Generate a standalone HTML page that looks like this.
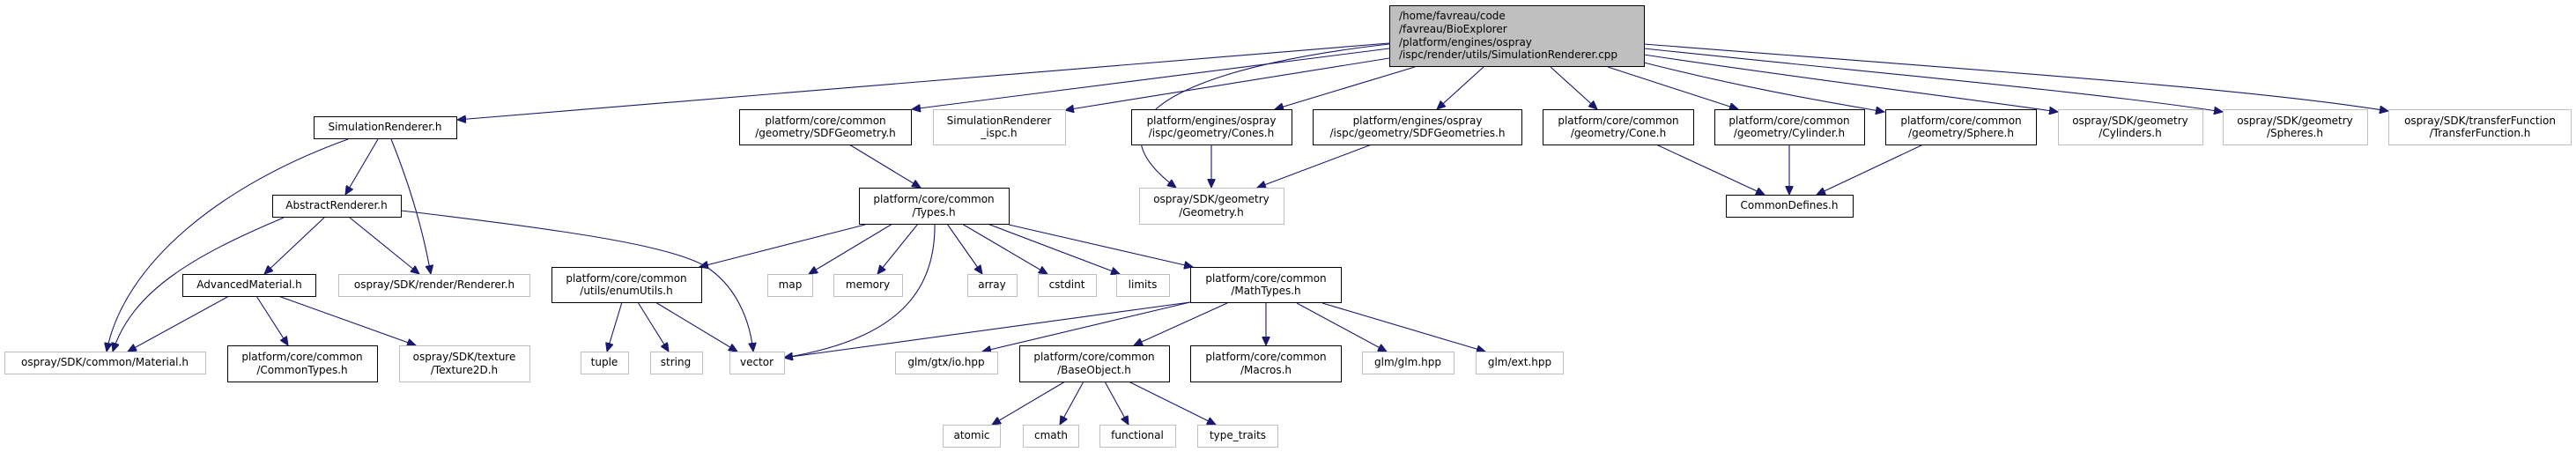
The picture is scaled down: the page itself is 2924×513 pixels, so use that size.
<!DOCTYPE html>
<html><head><meta charset="utf-8"><style>
html,body{margin:0;padding:0;background:#fff;}
svg{display:block;}
text{font-family:"DejaVu Sans","Liberation Sans",sans-serif;font-size:12px;fill:#000;}
.b{fill:#fff;stroke:#000;stroke-width:1;}
.g{fill:#fff;stroke:#bfbfbf;stroke-width:1;}
.e{fill:none;stroke:#191970;stroke-width:1.1;}
</style></head><body>
<svg width="2924" height="513" viewBox="0 0 2924 513" xmlns="http://www.w3.org/2000/svg">
<defs><marker id="a" markerUnits="userSpaceOnUse" markerWidth="11" markerHeight="9" refX="10" refY="4.5" orient="auto"><path d="M0,0 L10,4.5 L0,9 Z" fill="#191970" stroke="#191970"/></marker></defs>
<g class="e" marker-end="url(#a)">
<path d="M1577,49 L519,136"/>
<path d="M1577,55 L1035,124"/>
<path d="M1577,66 L1209,125"/>
<path d="M1577,50 C1400,70 1210,120 1335,213"/>
<path d="M1606,76 L1447,124"/>
<path d="M1684,76 L1631,124"/>
<path d="M1760,76 L1813,124"/>
<path d="M1825,76 L1973,124"/>
<path d="M1866,71 C1980,100 2070,115 2139,127"/>
<path d="M1866,62 C2050,90 2220,110 2336,127"/>
<path d="M1866,55 C2150,85 2380,105 2523,127"/>
<path d="M1866,50 C2250,80 2550,100 2711,126"/>
<path d="M395,158 C250,210 140,300 121,399"/>
<path d="M429,158 L392,221"/>
<path d="M444,158 C465,210 480,260 489,311"/>
<path d="M322,247 C220,290 150,330 128,399"/>
<path d="M368,247 L300,311"/>
<path d="M397,247 L476,311"/>
<path d="M455,239 C650,262 770,280 805,305 C840,330 852,370 855,399"/>
<path d="M260,336 L145,399"/>
<path d="M291,336 L327,392"/>
<path d="M316,336 L472,392"/>
<path d="M964,164 L1045,213"/>
<path d="M982,255 L794,303"/>
<path d="M1013,254 L918,311"/>
<path d="M1042,254 L996,311"/>
<path d="M1061,254 C1062,330 1020,385 890,406"/>
<path d="M1075,254 L1115,311"/>
<path d="M1092,254 L1189,311"/>
<path d="M1121,254 L1271,311"/>
<path d="M1145,255 L1354,303"/>
<path d="M706,343 L689,399"/>
<path d="M724,343 L759,399"/>
<path d="M744,343 L837,399"/>
<path d="M1351,343 L890,406"/>
<path d="M1351,343 L1115,399"/>
<path d="M1393,344 L1287,392"/>
<path d="M1437,344 L1437,392"/>
<path d="M1472,344 L1574,399"/>
<path d="M1501,344 L1686,399"/>
<path d="M1209,433 L1126,482"/>
<path d="M1230,433 L1203,482"/>
<path d="M1254,433 L1281,482"/>
<path d="M1281,433 L1380,482"/>
<path d="M1375,164 L1375,213"/>
<path d="M1557,164 L1427,213"/>
<path d="M1880,164 L2003,221"/>
<path d="M2031,164 L2031,221"/>
<path d="M2183,164 L2062,221"/>
</g>
<!-- main -->
<rect x="1577.5" y="6.5" width="289" height="69" fill="#bfbfbf" stroke="#000"/>
<text x="1588" y="22">/home/favreau/code</text>
<text x="1588" y="37">/favreau/BioExplorer</text>
<text x="1588" y="52">/platform/engines/ospray</text>
<text x="1588" y="66">/ispc/render/utils/SimulationRenderer.cpp</text>
<g text-anchor="middle">
<!-- row 1 -->
<rect class="b" x="356.5" y="132.5" width="162" height="25"/><text x="437" y="148">SimulationRenderer.h</text>
<rect class="b" x="839.5" y="124.5" width="195" height="40"/><text x="937" y="141">platform/core/common</text><text x="937" y="155">/geometry/SDFGeometry.h</text>
<rect class="g" x="1059.5" y="124.5" width="150" height="40"/><text x="1134" y="141">SimulationRenderer</text><text x="1134" y="155">_ispc.h</text>
<rect class="b" x="1284.5" y="124.5" width="182" height="40"/><text x="1375" y="141">platform/engines/ospray</text><text x="1375" y="155">/ispc/geometry/Cones.h</text>
<rect class="b" x="1490.5" y="124.5" width="237" height="40"/><text x="1609" y="141">platform/engines/ospray</text><text x="1609" y="155">/ispc/geometry/SDFGeometries.h</text>
<rect class="b" x="1751.5" y="124.5" width="171" height="40"/><text x="1837" y="141">platform/core/common</text><text x="1837" y="155">/geometry/Cone.h</text>
<rect class="b" x="1946.5" y="124.5" width="170" height="40"/><text x="2031" y="141">platform/core/common</text><text x="2031" y="155">/geometry/Cylinder.h</text>
<rect class="b" x="2140.5" y="124.5" width="171" height="40"/><text x="2226" y="141">platform/core/common</text><text x="2226" y="155">/geometry/Sphere.h</text>
<rect class="g" x="2336.5" y="124.5" width="164" height="40"/><text x="2418" y="141">ospray/SDK/geometry</text><text x="2418" y="155">/Cylinders.h</text>
<rect class="g" x="2523.5" y="124.5" width="164" height="40"/><text x="2605" y="141">ospray/SDK/geometry</text><text x="2605" y="155">/Spheres.h</text>
<rect class="g" x="2711.5" y="124.5" width="207" height="40"/><text x="2815" y="141">ospray/SDK/transferFunction</text><text x="2815" y="155">/TransferFunction.h</text>
<!-- row 2 -->
<rect class="b" x="309.5" y="221.5" width="146" height="25"/><text x="382" y="237">AbstractRenderer.h</text>
<rect class="b" x="975.5" y="213.5" width="170" height="41"/><text x="1060" y="230">platform/core/common</text><text x="1060" y="245">/Types.h</text>
<rect class="g" x="1293.5" y="213.5" width="164" height="41"/><text x="1375" y="230">ospray/SDK/geometry</text><text x="1375" y="245">/Geometry.h</text>
<rect class="b" x="1959.5" y="221.5" width="144" height="25"/><text x="2031" y="237">CommonDefines.h</text>
<!-- row 3 -->
<rect class="b" x="207.5" y="311.5" width="151" height="25"/><text x="283" y="327">AdvancedMaterial.h</text>
<rect class="g" x="384.5" y="311.5" width="217" height="25"/><text x="493" y="327">ospray/SDK/render/Renderer.h</text>
<rect class="b" x="626.5" y="303.5" width="170" height="40"/><text x="711" y="320">platform/core/common</text><text x="711" y="334">/utils/enumUtils.h</text>
<rect class="g" x="871.5" y="311.5" width="51" height="25"/><text x="897" y="327">map</text>
<rect class="g" x="946.5" y="311.5" width="78" height="25"/><text x="985" y="327">memory</text>
<rect class="g" x="1098.5" y="311.5" width="56" height="25"/><text x="1126" y="327">array</text>
<rect class="g" x="1178.5" y="311.5" width="66" height="25"/><text x="1211" y="327">cstdint</text>
<rect class="g" x="1267.5" y="311.5" width="60" height="25"/><text x="1297" y="327">limits</text>
<rect class="b" x="1351.5" y="303.5" width="171" height="40"/><text x="1437" y="320">platform/core/common</text><text x="1437" y="334">/MathTypes.h</text>
<!-- row 4 -->
<rect class="g" x="5.5" y="399.5" width="228" height="25"/><text x="119" y="415">ospray/SDK/common/Material.h</text>
<rect class="b" x="258.5" y="392.5" width="170" height="41"/><text x="343" y="409">platform/core/common</text><text x="343" y="424">/CommonTypes.h</text>
<rect class="g" x="453.5" y="392.5" width="148" height="41"/><text x="527" y="409">ospray/SDK/texture</text><text x="527" y="424">/Texture2D.h</text>
<rect class="g" x="659.5" y="399.5" width="54" height="25"/><text x="686" y="415">tuple</text>
<rect class="g" x="738.5" y="399.5" width="59" height="25"/><text x="767" y="415">string</text>
<rect class="g" x="828.5" y="399.5" width="62" height="25"/><text x="859" y="415">vector</text>
<rect class="g" x="1016.5" y="399.5" width="116" height="25"/><text x="1074" y="415">glm/gtx/io.hpp</text>
<rect class="b" x="1157.5" y="392.5" width="170" height="41"/><text x="1242" y="409">platform/core/common</text><text x="1242" y="424">/BaseObject.h</text>
<rect class="b" x="1351.5" y="392.5" width="171" height="41"/><text x="1437" y="409">platform/core/common</text><text x="1437" y="424">/Macros.h</text>
<rect class="g" x="1546.5" y="399.5" width="104" height="25"/><text x="1598" y="415">glm/glm.hpp</text>
<rect class="g" x="1675.5" y="399.5" width="99" height="25"/><text x="1725" y="415">glm/ext.hpp</text>
<!-- row 5 -->
<rect class="g" x="1070.5" y="482.5" width="65" height="25"/><text x="1103" y="498">atomic</text>
<rect class="g" x="1161.5" y="482.5" width="63" height="25"/><text x="1193" y="498">cmath</text>
<rect class="g" x="1248.5" y="482.5" width="86" height="25"/><text x="1291" y="498">functional</text>
<rect class="g" x="1359.5" y="482.5" width="91" height="25"/><text x="1405" y="498">type_traits</text>
</g>
</svg>
</body></html>
